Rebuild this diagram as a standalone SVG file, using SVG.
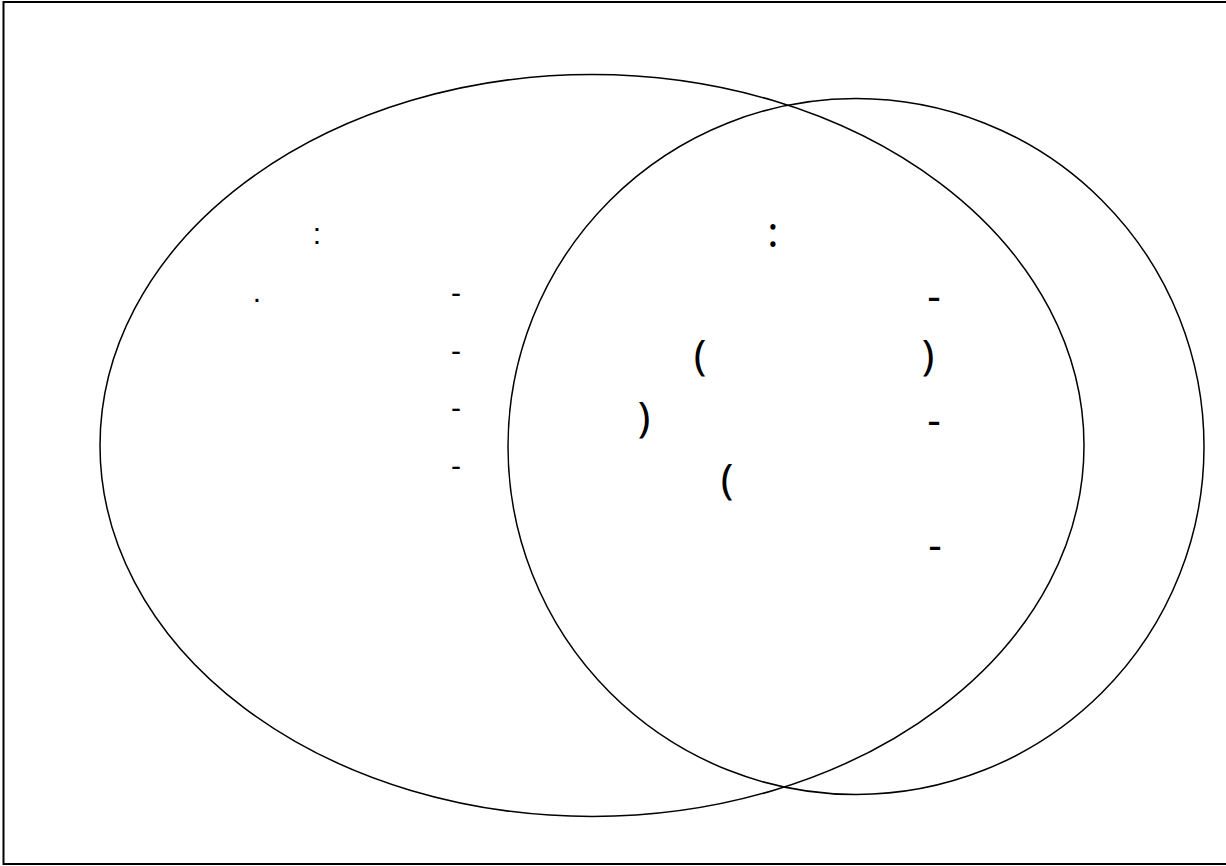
<svg xmlns="http://www.w3.org/2000/svg" width="1226" height="866" viewBox="0 0 1226 866">
<style>
.frame{fill:#fff;stroke:#000;stroke-width:2}
.set{fill:none;stroke:#000;stroke-width:1.5}
.lt{font-family:"Liberation Sans",Arial,sans-serif;font-size:30px;fill:#000;text-anchor:middle}
.rt{font-family:"Noto Sans","DejaVu Sans",sans-serif;font-size:42px;font-weight:normal;fill:#000;text-anchor:middle}
</style>
<rect class="frame" x="3.5" y="2" width="1224" height="862"/>
<g id="set-a">
<ellipse class="set" cx="592" cy="445.5" rx="492" ry="371"/>
<text class="lt" x="317" y="244">:</text>
<text class="lt" x="257" y="302">.</text>
<text class="lt" x="456" y="303">-</text>
<text class="lt" x="456" y="361">-</text>
<text class="lt" x="456" y="418">-</text>
<text class="lt" x="456" y="476">-</text>
</g>
<g id="set-b">
<ellipse class="set" cx="856" cy="446.5" rx="348" ry="348"/>
<text class="rt" x="773" y="247">:</text>
<text class="rt" x="934" y="311">-</text>
<text class="rt" x="700" y="370">(</text>
<text class="rt" x="928" y="370">)</text>
<text class="rt" x="644" y="432">)</text>
<text class="rt" x="934" y="435">-</text>
<text class="rt" x="727" y="494">(</text>
<text class="rt" x="935" y="560">-</text>
</g>
</svg>
